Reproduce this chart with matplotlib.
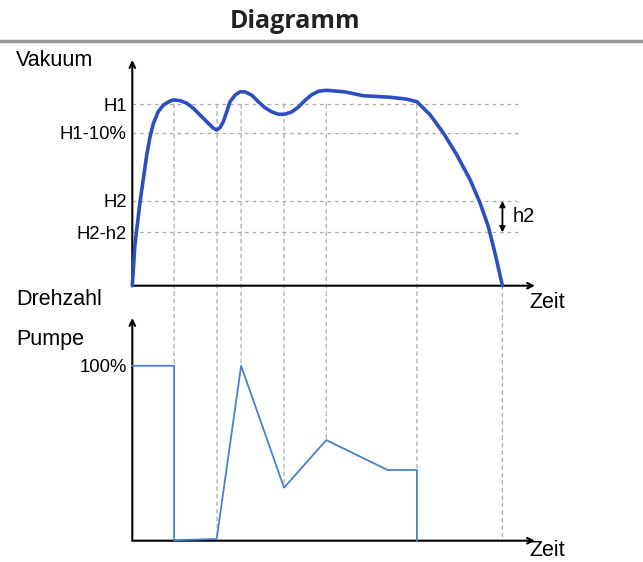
import numpy as np
import matplotlib.pyplot as plt
from matplotlib.patches import ConnectionPatch

plt.rcParams['font.family'] = ['Liberation Sans', 'DejaVu Sans']

# Vakuum curve (top)
t_vac = [0, 0.07, 0.135, 0.21, 0.30, 0.39, 0.48, 0.57, 0.70, 0.84, 1.02, 1.11,
         1.29, 1.47, 1.65, 1.83, 2.01, 2.19, 2.28, 2.37, 2.46, 2.55, 2.64,
         2.78, 2.91, 3.05, 3.23, 3.41, 3.59, 3.77, 3.95, 4.12, 4.31, 4.49,
         4.67, 4.85, 5.03, 5.25, 5.48, 5.75, 6.24, 6.96, 7.42, 7.69, 8.05,
         8.41, 8.77, 9.13, 9.40, 9.62, 9.80, 10.0]
v_vac = [0, 22.4, 33.5, 46.3, 59.2, 72.1, 82.1, 89.5, 95.9, 99.6, 101.8, 102.4,
         102.0, 100.6, 97.8, 94.1, 90.4, 86.8, 85.8, 87.1, 90.4, 95.9, 101.4,
         105.1, 106.9, 106.8, 105.0, 101.3, 98.0, 95.8, 94.5, 94.5, 95.8, 98.5,
         102.2, 105.3, 107.2, 107.7, 107.3, 106.8, 104.7, 103.9, 102.8, 101.4, 94.1,
         84.0, 72.0, 58.3, 45.4, 32.5, 17.9, 0]

# pump speed (bottom)
t_pump = [0, 1.13, 1.13, 2.28, 2.94, 4.10, 5.24, 6.90, 7.69, 7.69]
v_pump = [100, 100, 0.3, 1.0, 100, 30.3, 57.5, 40.4, 40.4, 0]

# levels
vac_levels = [100, 84.3, 46.7, 29.4]
vac_labels = ['H1', 'H1-10%', 'H2', 'H2-h2']
H2, H2h2 = 46.7, 29.4

# vertical guide lines: time, level in upper and lower chart
guide_t = [1.13, 2.29, 2.94, 4.10, 5.24, 7.69, 10.0]
guide_top = [100, 100, 100, 100, 100, 100, 0]
guide_bottom = [100, 1.0, 100, 30.3, 57.5, 40.4, 0]

W, H = 643, 562
fig = plt.figure(figsize=(W / 100, H / 100), dpi=100)

def px(x, y):
    return x / W, 1 - y / H

ax1 = fig.add_axes([132.3 / W, 1 - 285.7 / H, 402.7 / W, 225.7 / H])
ax2 = fig.add_axes([132.3 / W, 1 - 540.7 / H, 402.7 / W, 222.7 / H])

xmax = 10.88
ax1.set_xlim(0, xmax)
ax1.set_ylim(0, 124.4)
ax2.set_xlim(0, xmax)
ax2.set_ylim(0, 127.3)

grid_c = '#aaaaaa'
dash = (0, (3, 3))

for ax in (ax1, ax2):
    for s in ax.spines.values():
        s.set_visible(False)
    ax.set_xticks([])
    ax.patch.set_alpha(0)
    ax.tick_params(axis='y', length=0, pad=4, labelsize=13.3)

for ax, ytop in ((ax1, 124.4), (ax2, 127.3)):
    ax.annotate('', xy=(0, ytop), xytext=(0, 0),
                arrowprops=dict(arrowstyle='->', lw=1.5, color='k',
                                shrinkA=0, shrinkB=0, mutation_scale=10))
    ax.annotate('', xy=(xmax, 0), xytext=(0, 0),
                arrowprops=dict(arrowstyle='->', lw=1.5, color='k',
                                shrinkA=0, shrinkB=0, mutation_scale=10))

ax1.set_yticks(vac_levels)
ax1.set_yticklabels(vac_labels)
ax1.hlines(vac_levels, 0, 10.42, colors=grid_c, linestyles=dash, lw=0.9, zorder=1)
ax1.plot(t_vac, v_vac, color='#2b4fc0', lw=2.6, solid_capstyle='round',
         solid_joinstyle='round', zorder=3, clip_on=False)

ax1.annotate('', xy=(10.0, H2), xytext=(10.0, H2h2),
             arrowprops=dict(arrowstyle='<|-|>', lw=1.3, color='k',
                             shrinkA=0, shrinkB=0, mutation_scale=8))

ax2.set_yticks([100])
ax2.set_yticklabels(['100%'])
ax2.plot(t_pump, v_pump, color='#4a80d0', lw=1.3, zorder=3, clip_on=False)

for t, yt, yb in zip(guide_t, guide_top, guide_bottom):
    con = ConnectionPatch(xyA=(t, yt), coordsA=ax1.transData,
                          xyB=(t, yb), coordsB=ax2.transData,
                          color=grid_c, lw=0.9, linestyle=dash, zorder=0)
    fig.add_artist(con)

# texts
fs = 15.5
fig.text(*px(16, 61), 'Vakuum', fontsize=fs, va='center', ha='left')
fig.text(*px(16, 300), 'Drehzahl', fontsize=fs, va='center', ha='left')
fig.text(*px(16, 339), 'Pumpe', fontsize=fs, va='center', ha='left')
fig.text(*px(529, 303), 'Zeit', fontsize=fs, va='center', ha='left')
fig.text(*px(529, 551), 'Zeit', fontsize=fs, va='center', ha='left')
fig.text(*px(513, 217), 'h2', fontsize=14.5, va='center', ha='left')

fig.text(*px(295, 22), 'Diagramm', fontsize=18, fontweight='bold',
         family=['Open Sans', 'DejaVu Sans'], color='#222222',
         ha='center', va='center')
fig.add_artist(plt.Line2D([0, 1], [1 - 41 / H, 1 - 41 / H], color='#999999', lw=2.5))

fig.savefig('out.png', dpi=100)
